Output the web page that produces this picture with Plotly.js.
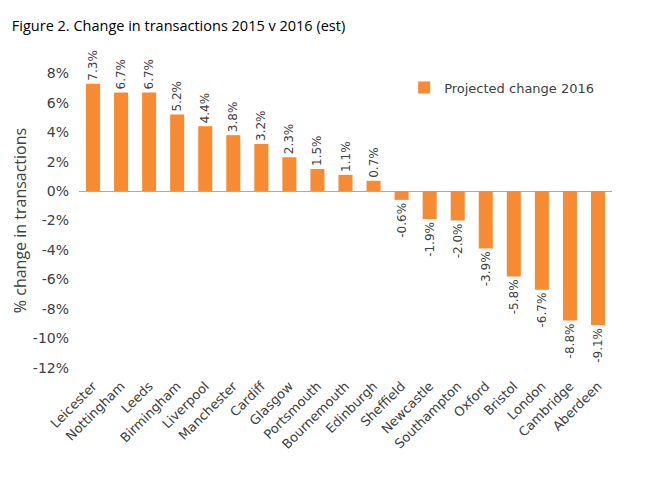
<!DOCTYPE html>
<html>
<head>
<meta charset="utf-8">
<script src="https://cdn.plot.ly/plotly-3.0.1.min.js"></script>
<style>html,body{margin:0;padding:0;background:#fff;}#chart{width:656px;height:485px;}</style>
</head>
<body>
<div id="chart"></div>
<script>
const cities = ["Leicester","Nottingham","Leeds","Birmingham","Liverpool","Manchester","Cardiff","Glasgow","Portsmouth","Bournemouth","Edinburgh","Sheffield","Newcastle","Southampton","Oxford","Bristol","London","Cambridge","Aberdeen"];
const change2016 = [7.3,6.7,6.7,5.2,4.4,3.8,3.2,2.3,1.5,1.1,0.7,-0.6,-1.9,-2.0,-3.9,-5.8,-6.7,-8.8,-9.1];
const yTickVals = [-12,-10,-8,-6,-4,-2,0,2,4,6,8];
const yTickText = ["-12%","-10%","-8%","-6%","-4%","-2%","0%","2%","4%","6%","8%"];
const seriesName = "Projected change 2016";

const VER = "DejaVu Sans";

const trace = {
  type: "bar",
  x: cities,
  y: change2016,
  name: seriesName,
  marker: {color: "#F68B33"},
  text: change2016.map(v => v.toFixed(1) + "%"),
  textposition: "outside",
  textangle: -90,
  constraintext: "none",
  textfont: {family: VER, size: 12, color: "#404040"},
  cliponaxis: false,
  hoverinfo: "x+y"
};

const layout = {
  width: 656, height: 485,
  paper_bgcolor: "#fff", plot_bgcolor: "#fff",
  margin: {l: 79, r: 44, t: 66, b: 110},
  title: {text: "Figure 2. Change in transactions 2015 v 2016 (est)", x: 0.018, xanchor: "left", y: 0.946, yanchor: "middle",
          font: {family: "Open Sans", size: 14.5, color: "#000"}},
  bargap: 0.5,
  showlegend: true,
  legend: {x: 0.61, y: 0.93, xanchor: "left", yanchor: "middle", bgcolor: "rgba(0,0,0,0)",
           font: {family: VER, size: 13, color: "#404040"},
           itemwidth: 30},
  xaxis: {
    type: "category",
    range: [-0.5, 18.5],
    tickangle: -45,
    showgrid: false, showline: false, zeroline: false, ticks: "",
    tickfont: {family: VER, size: 13, color: "#404040"}
  },
  yaxis: {
    range: [-12.5, 8.5],
    tickvals: yTickVals, ticktext: yTickText,
    showgrid: false, showline: false, ticks: "",
    ticklabelstandoff: 9,
    zeroline: true, zerolinecolor: "#8FB0D8", zerolinewidth: 1,
    tickfont: {family: VER, size: 14, color: "#404040"},
    title: {text: "% change in transactions", standoff: 2,
            font: {family: "Open Sans", size: 16, color: "#404040"}}
  }
};

Plotly.newPlot("chart", [trace], layout, {displayModeBar: false, staticPlot: true});
</script>
</body>
</html>
